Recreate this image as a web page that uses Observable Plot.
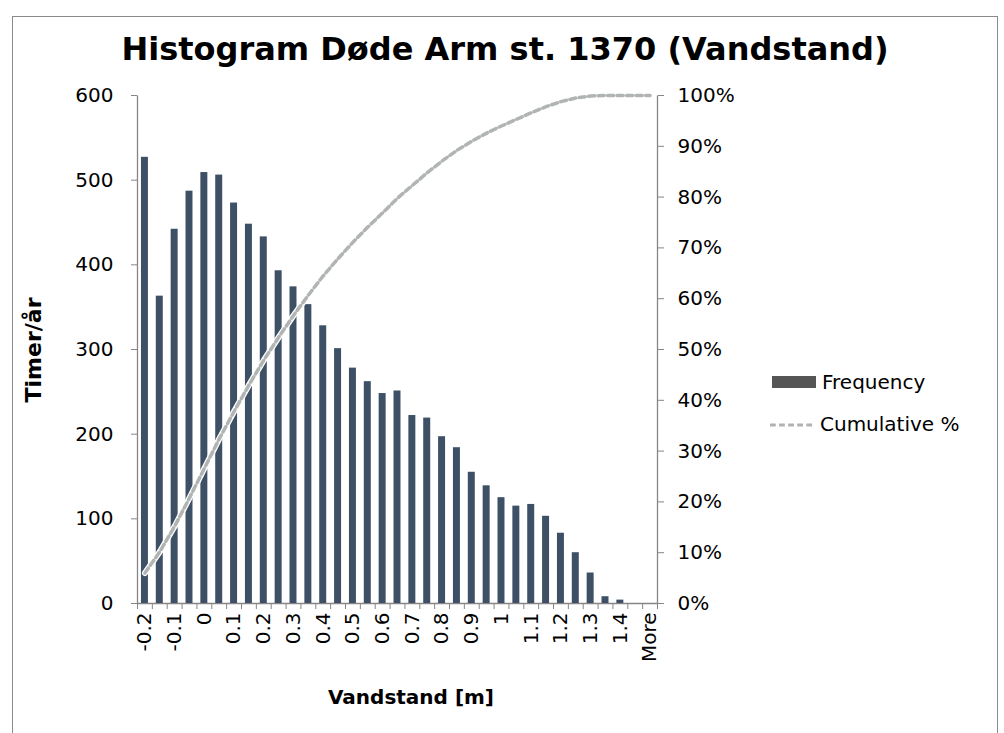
<!DOCTYPE html>
<html>
<head>
<meta charset="utf-8">
<script src="https://cdn.jsdelivr.net/npm/d3@7"></script>
<script src="https://cdn.jsdelivr.net/npm/@observablehq/plot@0.6"></script>
<style>
  html, body { margin: 0; padding: 0; background: #fff; }
  #wrap { position: relative; width: 1004px; height: 733px; overflow: hidden; font-family: "DejaVu Sans", Verdana, sans-serif; }
  #border { position: absolute; left: 12px; top: 16px; width: 986px; height: 740px; border: 1.5px solid #8a8a8a; box-sizing: border-box; }
  #title { position: absolute; left: 0; width: 1010px; top: 30px; text-align: center; font-weight: bold; font-size: 32px; line-height: 38px; }
  #xtitle { position: absolute; left: 311px; width: 200px; top: 684px; text-align: center; font-weight: bold; font-size: 20px; line-height: 26px; }
  #ytitle { position: absolute; left: 33px; top: 350px; transform: translate(-50%, -50%) rotate(-90deg); font-weight: bold; font-size: 22px; white-space: nowrap; }
  .leg { position: absolute; left: 770px; font-size: 20px; display: flex; align-items: center; white-space: nowrap; }
  .sw { width: 44px; height: 12px; margin-right: 6px; }
  #chart { position: absolute; left: 0; top: 0; }
</style>
</head>
<body>
<div id="wrap">
  <div id="border"></div>
  <div id="chart"></div>
  <div id="title">Histogram Døde Arm st. 1370 (Vandstand)</div>
  <div id="xtitle">Vandstand [m]</div>
  <div id="ytitle">Timer/år</div>
  <div class="leg" style="top:370px;"><div class="sw" style="background:#555;height:12px;margin-left:2px;"></div>Frequency</div>
  <div class="leg" style="top:412px;"><svg class="sw" width="46" height="12" viewBox="0 0 46 12"><line x1="0" y1="7" x2="46" y2="7" stroke="#b2b2b2" stroke-width="3" stroke-dasharray="6,3.5"/></svg>Cumulative %</div>
</div>
<script>
// Bin labels (Excel histogram bins, 0.05 m steps)
const bins = ["-0.2","-0.15","-0.1","-0.05","0","0.05","0.1","0.15","0.2","0.25","0.3","0.35","0.4","0.45","0.5","0.55","0.6","0.65","0.7","0.75","0.8","0.85","0.9","0.95","1","1.05","1.1","1.15","1.2","1.25","1.3","1.35","1.4","1.45","More"];
// Frequency (Timer/år)
const frequency = [527,363,442,487,509,506,473,448,433,393,374,353,328,301,278,262,248,251,222,219,197,184,155,139,125,115,117,103,83,60,36,8,4,0,0];
// Cumulative %
const cumulativePct = [6.0,10.2,15.2,20.8,26.6,32.4,37.8,43.0,47.9,52.4,56.7,60.7,64.5,67.9,71.1,74.1,76.9,79.8,82.3,84.8,87.1,89.2,91.0,92.6,94.0,95.3,96.6,97.8,98.8,99.5,99.9,100,100,100,100];
// Axis ticks
const leftTicks = [0,100,200,300,400,500,600];
const rightTicks = [0,10,20,30,40,50,60,70,80,90,100];
const xLabelTicks = ["-0.2","-0.1","0","0.1","0.2","0.3","0.4","0.5","0.6","0.7","0.8","0.9","1","1.1","1.2","1.3","1.4","More"];

const data = bins.map((b, i) => ({bin: b, freq: frequency[i], cum: cumulativePct[i]}));
const yMax = 600;
const pctToY = p => p / 100 * yMax;

const mL = 137, mR = 347, W = 1004;
const step = (W - mL - mR) / bins.length;
const axisColor = "#868686";

const chart = Plot.plot({
  width: W,
  height: 733,
  marginLeft: mL,
  marginRight: mR,
  marginTop: 95,
  marginBottom: 130,
  x: {type: "band", domain: bins, paddingInner: 0.53, paddingOuter: 0.265, round: false},
  y: {domain: [0, yMax]},
  style: {fontFamily: "DejaVu Sans, Verdana, sans-serif", fontSize: "20px", color: "#000", background: "transparent", overflow: "visible"},
  marks: [
    Plot.frame({stroke: axisColor, strokeWidth: 1.3, strokeDasharray: `0,${W - mL - mR},3000`}),
    Plot.barY(data, {x: "bin", y: "freq", fill: "#3d5065"}),
    Plot.line(data, {x: "bin", y: d => pctToY(d.cum), stroke: "white", strokeWidth: 6}),
    Plot.line(data, {x: "bin", y: d => pctToY(d.cum), stroke: "#b0b4b2", strokeWidth: 3.5, strokeDasharray: "6,3.5"}),
    Plot.axisY({anchor: "left", ticks: leftTicks, tickSize: 6, tickPadding: 18, label: null, stroke: axisColor, fill: "#000"}),
    Plot.axisY({anchor: "right", ticks: rightTicks.map(pctToY), tickFormat: d => Math.round(d / yMax * 100) + "%", tickSize: 6, tickPadding: 14, label: null, stroke: axisColor}),
    Plot.axisX({ticks: bins, tickSize: 6, tickFormat: () => "", dx: -step / 2, label: null, stroke: axisColor}),
    Plot.axisX({ticks: ["More"], tickSize: 6, tickFormat: () => "", dx: step / 2, label: null, stroke: axisColor}),
    Plot.axisX({ticks: xLabelTicks, tickSize: 0, tickRotate: -90, tickPadding: 9, label: null})
  ]
});
document.getElementById("chart").append(chart);
</script>
</body>
</html>
